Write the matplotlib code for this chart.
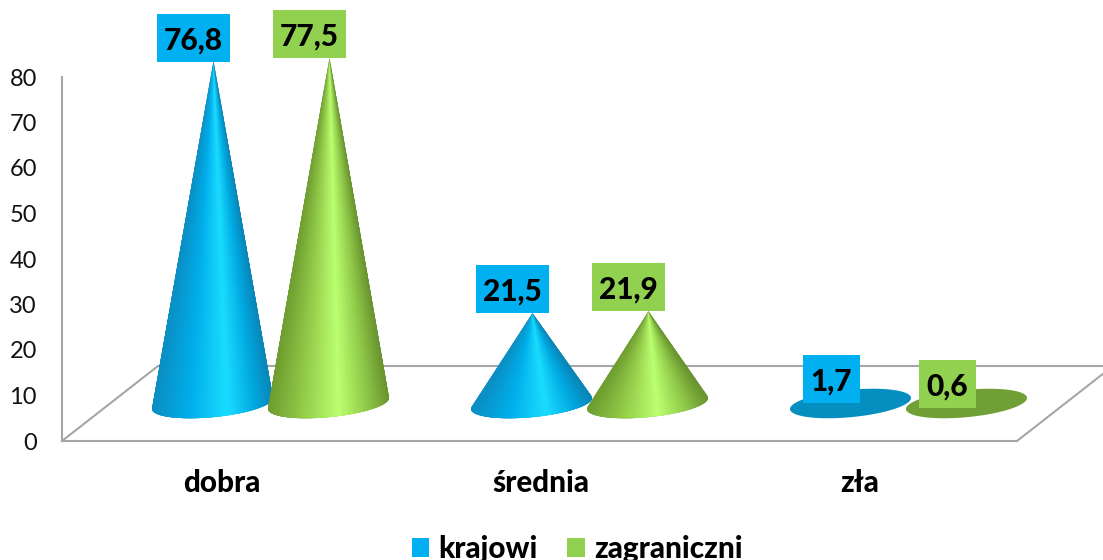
import numpy as np
import matplotlib
matplotlib.use('Agg')
import matplotlib.pyplot as plt
from matplotlib.collections import PolyCollection
from matplotlib.colors import LinearSegmentedColormap
from matplotlib.patches import Patch, Polygon, Rectangle

plt.rcParams['font.family'] = ['Lato', 'DejaVu Sans']

categories = ['dobra', 'średnia', 'zła']
krajowi = [76.8, 21.5, 1.7]
zagraniczni = [77.5, 21.9, 0.6]
yticks = [0, 10, 20, 30, 40, 50, 60, 70, 80]

W, H = 1103, 560
LEFT, RIGHT, BOTTOM, TOP = 62, 1017, 441, 77  # pikselami
PX_X = 319.0   # pikseli na kategorie
PX_Y = 4.55    # pikseli na jednostke
GRAY = '#a6a6a6'

# glebokosc podlogi
DEPTH_X = 96 / PX_X
DEPTH_Y = 75 / PX_Y
APEX_UP = 30 / PX_Y
BASE_UP = 37.5 / PX_Y
BAR_SHIFT = 58 / PX_X
A = 60.5 / PX_X
B = 13.7 / PX_Y
TILT = 5.5 / PX_Y

blue_map = LinearSegmentedColormap.from_list('b', [(0, '#0a8fc4'), (0.3, '#00aeea'), (0.62, '#1adcff'), (0.85, '#00a8e0'), (1, '#0a86b8')])
green_map = LinearSegmentedColormap.from_list('g', [(0, '#6f9e30'), (0.3, '#96cf4c'), (0.58, '#bcff70'), (0.82, '#8fc848'), (1, '#6a9430')])


def ellipse(xc, yc, t):
    return np.column_stack([xc + A * np.cos(t), yc + B * np.sin(t) + TILT * np.cos(t)])


def draw_cone(ax, xc, value, cmap, cap):
    yc = BASE_UP
    t = np.linspace(0, 2 * np.pi, 200)
    ax.add_patch(Polygon(ellipse(xc, yc, t), closed=True, fc=cap, ec='none', clip_on=False, zorder=3))
    apex = value + APEX_UP
    if apex < yc + B + TILT:
        return
    t = np.linspace(np.pi - 0.25, 2 * np.pi + 0.25, 120)
    pts = ellipse(xc, yc, t)
    # trojkaty nachodza na siebie, zeby nie bylo widac szwow
    tris = [[(xc + 1 / PX_X, apex), pts[i], pts[min(i + 3, len(pts) - 1)]] for i in range(len(pts) - 1)]
    cols = cmap((np.cos(t[:-1]) + 1) / 2)
    ax.add_collection(PolyCollection(tris, facecolors=cols, edgecolors='none', linewidths=0, clip_on=False, zorder=3), autolim=False)


def draw_label(ax, xc, value, color):
    text = f'{value:.1f}'.replace('.', ',')
    w = (73 if len(text) == 4 else 57) / PX_X
    h = 48 / PX_Y
    x = xc - 19.5 / PX_X
    y = value + APEX_UP
    ax.add_patch(Rectangle((x - w / 2, y), w, h, fc=color, ec='none', clip_on=False, zorder=5))
    ax.text(x, y + h / 2, text, ha='center', va='center_baseline', fontsize=21.5, fontweight='black', color='black', zorder=6)


fig = plt.figure(figsize=(W / 100, H / 100), dpi=100)
ax = fig.add_axes([LEFT / W, 1 - BOTTOM / H, (RIGHT - LEFT) / W, (BOTTOM - TOP) / H])
center = 270.5
ax.set_xlim((LEFT - center) / PX_X, (RIGHT - center) / PX_X)
ax.set_ylim(0, 80)

for side in ['top', 'right']:
    ax.spines[side].set_visible(False)
for side in ['left', 'bottom']:
    ax.spines[side].set_color(GRAY)
    ax.spines[side].set_linewidth(1.5)

x0, x1 = ax.get_xlim()
ax.plot([x0, x0 + DEPTH_X, x1 + DEPTH_X, x1], [0, DEPTH_Y, DEPTH_Y, 0], color=GRAY, lw=1.5, clip_on=False, zorder=1)

ax.set_yticks(yticks)
ax.tick_params(axis='y', length=0, pad=18, labelsize=17, labelcolor='#111111')
pos = np.arange(len(categories))
ax.set_xticks(pos - 49 / PX_X)
ax.set_xticklabels(categories, fontsize=21.3, fontweight='black')
ax.tick_params(axis='x', length=0, pad=20)

for i in pos:
    draw_cone(ax, i - BAR_SHIFT, krajowi[i], blue_map, '#058fc0')
    draw_cone(ax, i + BAR_SHIFT, zagraniczni[i], green_map, '#6f9f35')
for i in pos:
    draw_label(ax, i - BAR_SHIFT, krajowi[i], '#00b0f0')
    draw_label(ax, i + BAR_SHIFT, zagraniczni[i], '#92d050')

handles = [Patch(fc='#00b0f0', label='krajowi'), Patch(fc='#92d050', label='zagraniczni')]
fig.legend(handles=handles, loc='center', bbox_to_anchor=(577 / W, 1 - 549 / H), ncol=2, frameon=False,
           prop={'size': 21.3, 'weight': 'black'}, handlelength=0.6, handleheight=0.6,
           handletextpad=0.3, columnspacing=1.0, borderpad=0)

fig.savefig('out.png', dpi=100)
